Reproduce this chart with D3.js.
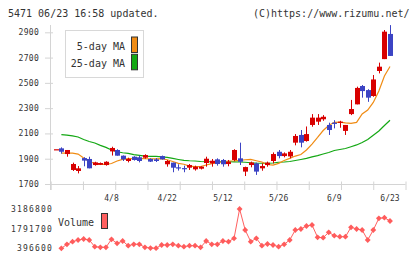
<!DOCTYPE html>
<html>
<head>
<meta charset="utf-8">
<title>5471 chart</title>
<style>
  body { margin: 0; background: #fff; }
  text { font-family: "DejaVu Sans Mono", monospace; fill: #333; }
</style>
</head>
<body>
<script src="https://d3js.org/d3.v7.min.js"></script>
<script>
// daily candles, oldest first
const opens  = [1975,1982,1937,1811,1803,1905,1898,1850,1852,1850,1958,1969,1924,1882,1916,1911,1908,1898,1895,1921,
                1856,1869,1832,1826,1829,1816,1821,1866,1863,1895,1890,1858,1890,1903,1798,1850,1863,1824,1850,1882,
                1955,1921,1918,2027,2088,2040,2167,2193,2212,2167,2185,2188,2120,2253,2330,2475,2443,2396,2594,2688,2887];
const highs  = [1975,1990,1969,1869,1842,1912,1916,1876,1870,1880,1995,1975,1926,1908,1920,1925,1935,1903,1905,1925,
                1890,1869,1856,1845,1858,1845,1840,1916,1898,1903,1898,1890,1975,2027,1837,1877,1869,1863,1877,1950,
                1969,1950,1969,2095,2127,2155,2253,2253,2245,2185,2205,2200,2167,2365,2470,2483,2450,2562,2660,2918,2957];
const lows   = [1975,1940,1916,1803,1784,1840,1824,1845,1850,1845,1925,1924,1882,1871,1885,1871,1900,1874,1874,1893,
                1837,1793,1806,1793,1811,1806,1815,1837,1837,1845,1837,1840,1880,1850,1763,1832,1772,1805,1837,1863,
                1903,1911,1903,2006,1990,2035,2153,2167,2200,2088,2140,2145,2088,2245,2330,2383,2350,2390,2575,2688,2713];
const closes = [1975,1955,1969,1858,1824,1885,1824,1871,1866,1876,1985,1924,1895,1898,1890,1882,1929,1877,1882,1895,
                1882,1829,1824,1822,1850,1837,1837,1900,1884,1858,1856,1876,1969,1876,1834,1870,1798,1842,1869,1937,
                1921,1942,1955,2080,2027,2095,2225,2225,2232,2127,2175,2193,2167,2293,2460,2435,2383,2527,2628,2905,2713];

// moving averages (first day has none)
const ma5  = [null,1944,1944,1944,1937,1906,1878,1862,1856,1856,1862,1882,1895,1900,1900,1903,1900,1898,1898,1900,
              1892,1878,1863,1856,1842,1837,1838,1850,1861,1869,1876,1882,1884,1887,1892,1895,1884,1874,1854,1850,
              1863,1886,1903,1921,1933,1969,2016,2068,2123,2163,2188,2190,2183,2179,2187,2254,2285,2345,2436,2554,2630];
const ma25 = [null,2090,2087,2080,2072,2052,2036,2024,2006,1990,1969,1955,1947,1942,1933,1927,1921,1919,1918,1915,
              1910,1902,1894,1887,1884,1882,1878,1876,1876,1876,1876,1876,1875,1874,1872,1868,1865,1864,1864,1866,
              1872,1874,1878,1886,1894,1903,1914,1924,1937,1949,1965,1973,1981,1995,2009,2028,2052,2085,2119,2163,2204];

const volumes = [null,396600,680600,865000,986000,1057000,986000,510000,467000,467000,1035000,752000,915000,581000,681000,681000,
                 467000,410000,405000,631000,631000,681000,581000,510000,581000,581000,467000,915000,681000,681000,915000,
                 865000,1107000,3186800,1696000,865000,1107000,581000,702000,631000,510000,681000,986000,1696000,1767000,
                 1980000,2051000,1178000,1149000,1533000,1291000,1220000,1220000,1888000,1767000,1696000,986000,1696000,
                 2527000,2569000,2335000];

const dateLabels = ["4/8","4/22","5/12","5/26","6/9","6/23"];
const dateIndex  = [10,20,30,40,50,60];
const priceTicks = [1700,1900,2100,2300,2500,2700,2900];
const volTicks   = [396600,1791700,3186800];
const gridTicks  = d3.range(12);

const width = 420, height = 259;
const upColor = "#d80000", downColor = "#3c44c4";
const axisColor = "#d4d4d4";

const svg = d3.select("body").append("svg")
    .attr("width", width)
    .attr("height", height);

svg.append("rect").attr("width", width).attr("height", height).attr("fill", "#fff");

const x = d3.scaleLinear().domain([0, 60]).range([55.8, 390]);
const xGrid = d3.scaleLinear().domain([0, 11]).range([50.7, 405.5]);
const y = d3.scaleLinear().domain([1700, 2900]).range([184, 32.3]);
const yv = d3.scaleLinear().domain([396600, 3186800]).range([248.3, 209]);

// header
svg.append("text").attr("x", 8).attr("y", 17).style("font-size", "10px")
    .text("5471 06/23 16:58 updated.");
svg.append("text").attr("x", 409.5).attr("y", 17).attr("text-anchor", "end").style("font-size", "10px")
    .text("(C)https://www.rizumu.net/");

// axes
svg.append("line").attr("x1", 50.5).attr("x2", 50.5).attr("y1", 25).attr("y2", 190)
    .attr("stroke", axisColor);
svg.append("line").attr("x1", 45).attr("x2", 405.5).attr("y1", 184.5).attr("y2", 184.5)
    .attr("stroke", axisColor);

const yAxis = svg.append("g")
    .attr("transform", "translate(53,0)")
    .call(d3.axisLeft(y).tickValues(priceTicks).tickSize(8).tickPadding(6).tickFormat(d3.format("d")));
yAxis.select(".domain").remove();
yAxis.selectAll(".tick line").attr("stroke", axisColor);
yAxis.selectAll(".tick text").style("font-size", "8px").attr("fill", "#333")
    .style("letter-spacing", "0.3px")
    .style("font-family", "DejaVu Sans Mono, monospace");

const xAxis = svg.append("g")
    .attr("transform", "translate(0,181.5)")
    .call(d3.axisBottom(xGrid).tickValues(gridTicks).tickSize(8.5).tickFormat(""));
xAxis.select(".domain").remove();
xAxis.selectAll(".tick line").attr("stroke", axisColor);

svg.selectAll(".date").data(dateLabels).enter().append("text")
    .attr("class", "date")
    .attr("x", (d, i) => x(dateIndex[i]))
    .attr("y", 201)
    .attr("text-anchor", "middle")
    .style("font-size", "8px")
    .text(d => d);

// moving averages
const maLine = d3.line()
    .defined(d => d != null)
    .x((d, i) => x(i))
    .y(d => y(d));

svg.append("path").datum(ma25).attr("d", maLine)
    .attr("fill", "none").attr("stroke", "#14a814").attr("stroke-width", 1.2);
svg.append("path").datum(ma5).attr("d", maLine)
    .attr("fill", "none").attr("stroke", "#f08c14").attr("stroke-width", 1.2);

// candles
const candles = svg.selectAll(".candle").data(opens).enter().append("g").attr("class", "candle");

candles.append("line")
    .attr("x1", (d, i) => Math.round(x(i)) + 0.5)
    .attr("x2", (d, i) => Math.round(x(i)) + 0.5)
    .attr("y1", (d, i) => y(highs[i]))
    .attr("y2", (d, i) => y(lows[i]))
    .attr("stroke", (d, i) => closes[i] >= d ? upColor : downColor)
    .attr("stroke-width", 1);

candles.append("rect")
    .attr("x", (d, i) => Math.round(x(i)) - 2)
    .attr("width", 5)
    .attr("y", (d, i) => y(Math.max(d, closes[i])))
    .attr("height", (d, i) => Math.max(1.2, Math.abs(y(d) - y(closes[i]))))
    .attr("fill", (d, i) => closes[i] >= d ? upColor : downColor);

// legend
svg.append("rect").attr("x", 65.5).attr("y", 30.5).attr("width", 78).attr("height", 47)
    .attr("fill", "#fff").attr("stroke", "#d8d8d8");
const maNames = ["5-day MA", "25-day MA"];
const maColors = ["#f08c14", "#14a814"];
maNames.forEach((name, k) => {
    svg.append("text").attr("x", 125).attr("y", 46 + k * 17.3).attr("dy", "0.35em")
        .attr("text-anchor", "end").style("font-size", "10px").text(name);
    svg.append("rect").attr("x", 131.5).attr("y", 37 + k * 17.3).attr("width", 6).attr("height", 15.5)
        .attr("fill", maColors[k]).attr("stroke", "#333");
});

// volume panel
const vAxis = svg.append("g")
    .attr("transform", "translate(53,0)")
    .call(d3.axisLeft(yv).tickValues(volTicks).tickSize(0).tickPadding(0).tickFormat(d3.format("d")));
vAxis.select(".domain").remove();
vAxis.selectAll(".tick text").style("font-size", "8px").attr("fill", "#333")
    .style("letter-spacing", "1.2px")
    .style("font-family", "DejaVu Sans Mono, monospace");

svg.append("text").attr("x", 58).attr("y", 222).attr("dy", "0.35em").style("font-size", "10px").text("Volume");
svg.append("rect").attr("x", 101.5).attr("y", 213.5).attr("width", 6).attr("height", 15)
    .attr("fill", "#ff6060").attr("stroke", "#333");

const volLine = d3.line().defined(d => d != null).x((d, i) => x(i)).y(d => yv(d));
svg.append("path").datum(volumes).attr("d", volLine)
    .attr("fill", "none").attr("stroke", "#ff6060").attr("stroke-width", 1);

svg.selectAll(".vmark").data(volumes).enter()
    .filter(d => d != null)
    .append("path")
    .attr("class", "vmark")
    .attr("d", d3.symbol(d3.symbolSquare, 17))
    .attr("transform", (d, i) => "translate(" + x(i + 1) + "," + yv(d) + ") rotate(45)")
    .attr("fill", "#ff5c5c");
</script>
</body>
</html>
